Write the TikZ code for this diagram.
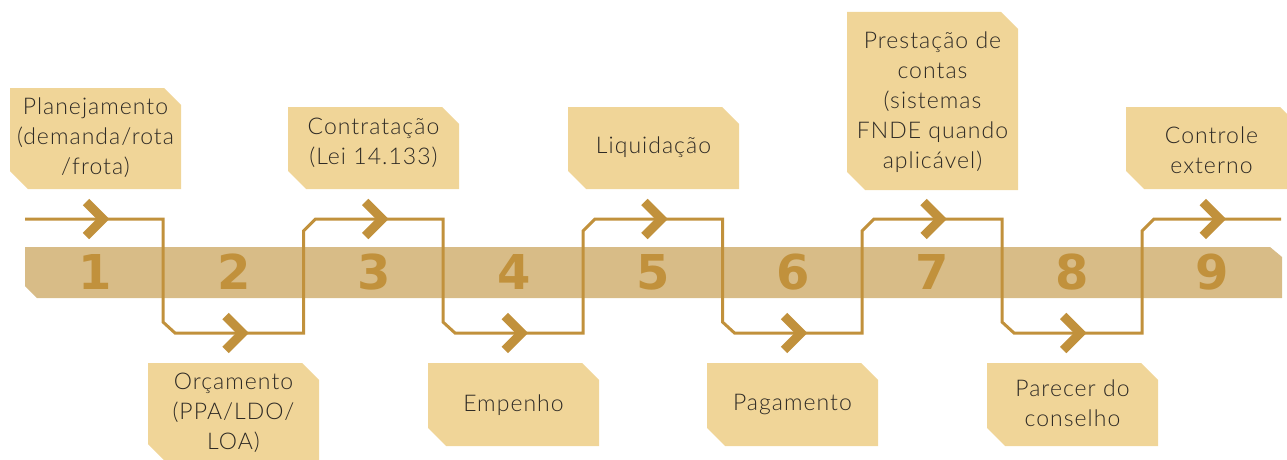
\documentclass[tikz,border=0pt]{standalone}
\usepackage{fontspec}
\setmainfont{Lato}[UprightFont={* Light},LetterSpace=4.5]
\newfontfamily\numfont{DejaVu Sans}
\definecolor{boxc}{RGB}{240,213,152}
\definecolor{bandc}{RGB}{216,188,135}
\definecolor{goldc}{RGB}{193,145,60}
\definecolor{txtc}{RGB}{46,42,37}
\tikzset{
  stepbox/.style={fill=boxc},
  steptext/.style={align=center, text=txtc, font=\fontsize{23}{30}\selectfont, inner sep=0pt},
  stepnum/.style={text=goldc, font=\numfont\bfseries\fontsize{48}{48}\selectfont, inner sep=0pt},
  flow/.style={draw=goldc, line width=3pt, line join=miter},
  chev/.style={draw=goldc, line width=9pt, line join=miter, line cap=butt},
}
% #1 name, #2 left, #3 top, #4 bottom, #5 text y, #6 text
\newcommand\gbox[6]{%
  \fill[stepbox] (#2,#3) -- (#2+154,#3) -- (#2+171,#3+17) -- (#2+171,#4) -- (#2+18,#4) -- (#2,#4-18) -- cycle;
  \node[steptext] (#1) at (#2+85.5,#5) {#6};
}
\begin{document}
\begin{tikzpicture}[x=1pt,y=-1pt]
\useasboundingbox (0,0) rectangle (1287,460);
\clip (0,0) rectangle (1287,460);
% band
\fill[bandc] (25,247) -- (1270,247) -- (1282,257) -- (1282,298) -- (37,298) -- (25,286) -- cycle;
% numbers
\foreach \i in {1,...,9} {
  \node[stepnum] (n\i) at ({95+139.6*(\i-1)},272) {\i};
}
% flow line
\coordinate (fs) at (25,219);
\coordinate (fe) at (1281,219);
\draw[flow] (fs) -- (163,219) -- (163,322) -- (175,333) -- (303.5,333) -- (303.5,231) -- (315.5,219)
  -- (443,219) -- (443,322) -- (455,333) -- (583,333) -- (583,231) -- (595,219)
  -- (722.5,219) -- (722.5,322) -- (734.5,333) -- (862,333) -- (862,231) -- (874,219)
  -- (1002,219) -- (1002,322) -- (1014,333) -- (1142,333) -- (1142,231) -- (1154,219) -- (fe);
% chevrons
\foreach \i in {1,3,5,7,9} {
  \pgfmathsetmacro\c{95+139.6*(\i-1)}
  \draw[chev] (\c-9,202) -- (\c+8,219) -- (\c-9,236);
}
\foreach \i in {2,4,6,8} {
  \pgfmathsetmacro\c{95+139.6*(\i-1)}
  \draw[chev] (\c-9,316) -- (\c+8,333) -- (\c-9,350);
}
% boxes
\gbox{b1}{10}{88}{189}{138}{\baselineskip=28.5pt Planejamento\\(demanda/rota\\/frota)}
\gbox{b2}{148}{363}{462}{413}{Orçamento\\(PPA/LDO/\\LOA)}
\gbox{b3}{288}{107}{189}{143}{Contratação\\(Lei 14.133)}
\gbox{b4}{428}{363}{446}{405}{Empenho}
\gbox{b5}{568}{107}{189}{147}{Liquidação}
\gbox{b6}{707}{363}{446}{404}{Pagamento}
\gbox{b7}{847}{12}{190}{102}{Prestação de\\contas\\(sistemas\\FNDE quando\\aplicável)}
\gbox{b8}{987}{363}{446}{403}{Parecer do\\conselho}
\gbox{b9}{1126}{107}{189}{150}{Controle\\externo}
\end{tikzpicture}
\end{document}
